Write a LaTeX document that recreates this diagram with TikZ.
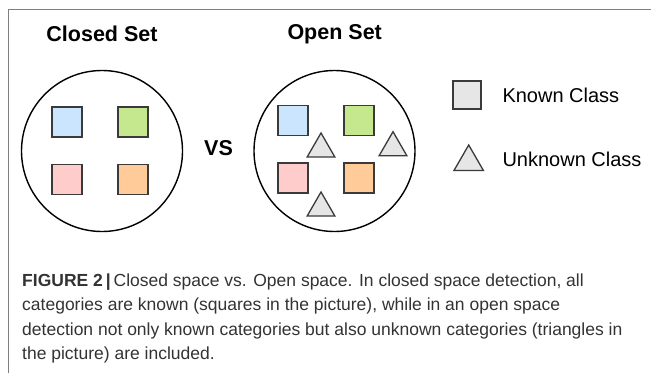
\documentclass[tikz,border=0pt]{standalone}
\usepackage{fontspec}
\setmainfont{Liberation Sans}
\usetikzlibrary{shapes.geometric}

\definecolor{sqblue}{HTML}{CCE5FF}
\definecolor{sqgreen}{HTML}{C5E88F}
\definecolor{sqpink}{HTML}{FFCCCC}
\definecolor{sqorange}{HTML}{FFCC99}
\definecolor{shgray}{HTML}{E6E6E6}
\definecolor{edgegray}{HTML}{3A3A3A}
\definecolor{capgray}{HTML}{333333}

\tikzset{
  title/.style={font=\fontsize{21.5}{24}\selectfont\bfseries},
  legend/.style={font=\fontsize{20}{24}\selectfont, anchor=west},
  setcirc/.style={draw=black, line width=1.4pt, circle, minimum size=161, inner sep=0},
  sqbox/.style={draw=edgegray, line width=1.8pt, minimum size=30, inner sep=0},
  tribox/.style={draw=edgegray, fill=shgray, line width=1.3pt, regular polygon,
    regular polygon sides=3, minimum size=32, inner sep=0},
  capline/.style={font=\fontsize{17.5}{20}\selectfont, text=capgray, anchor=base west, inner sep=0}
}

\begin{document}
\begin{tikzpicture}[x=1pt,y=-1pt]
  \useasboundingbox (0,0) rectangle (651,373);

  % frame
  \draw[gray, line width=1.2pt] (651,9.3) -- (8.3,9.3) -- (8.3,373);

  % left: closed set
  \node[title] (closedt) at (102,34) {Closed Set};
  \node[setcirc] (closedc) at (102,151) {};
  \node[sqbox, fill=sqblue]   (cblue)   at (67,122) {};
  \node[sqbox, fill=sqgreen]  (cgreen)  at (133,122) {};
  \node[sqbox, fill=sqpink]   (cpink)   at (67,179.5) {};
  \node[sqbox, fill=sqorange] (corange) at (133,179.5) {};

  \node[title] (vs) at (218.5,148) {VS};

  % right: open set
  \node[title] (opent) at (334.7,34) {Open Set};
  \node[setcirc] (openc) at (334.5,151) {};
  \node[sqbox, fill=sqblue]   (oblue)   at (293,120.5) {};
  \node[sqbox, fill=sqgreen]  (ogreen)  at (358.7,120.5) {};
  \node[sqbox, fill=sqpink]   (opink)   at (293,177.8) {};
  \node[sqbox, fill=sqorange] (oorange) at (358.7,177.8) {};
  \node[tribox] (tmid)   at (321,149) {};
  \node[tribox] (tright) at (393,147.7) {};
  \node[tribox] (tlow)   at (321,208) {};

  % legend
  \node[sqbox, fill=shgray, minimum size=28] (lsq) at (467.2,94.8) {};
  \node[legend] (lknown) at (499,95) {Known Class};
  \node[tribox, minimum size=34] (ltri) at (468.7,162) {};
  \node[legend] (lunknown) at (499,159.3) {Unknown Class};

  % caption
  \node[capline] (cap1) at (22,286) {{\bfseries FIGURE 2\,|}\,Closed space vs. Open space. In closed space detection, all};
  \node[capline] (cap2) at (22,310.5) {categories are known (squares in the picture), while in an open space};
  \node[capline] (cap3) at (22,335) {detection not only known categories but also unknown categories (triangles in};
  \node[capline] (cap4) at (22,359) {the picture) are included.};
\end{tikzpicture}
\end{document}
